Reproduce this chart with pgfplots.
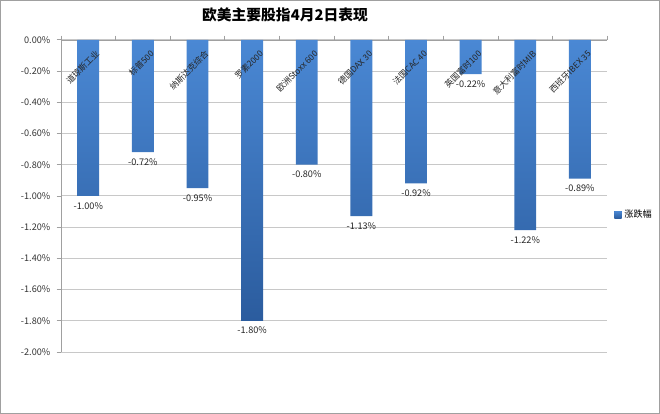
\documentclass[border=0pt]{standalone}
\usepackage{pgfplots}
\pgfplotsset{compat=1.18}
\usepackage{fontspec}
\setmainfont{Noto Sans CJK SC}
\definecolor{barTop}{HTML}{4A88D4}
\definecolor{barBot}{HTML}{2B5C9E}
\definecolor{gridc}{HTML}{C8C8C8}
\definecolor{axc}{HTML}{A0A0A0}
\begin{document}
\begin{tikzpicture}[x=0.025cm,y=0.025cm]
% outer frame, 660 x 414 px
\draw[draw=axc,line width=0.6pt] (0.5,0.5) rectangle (659.5,413.5);
\node[font=\fontsize{10.5}{11}\selectfont\bfseries] at (285,399) {欧美主要股指4月2日表现};
\begin{axis}[
    at={(1.525cm,1.55cm)}, anchor=south west,
    scale only axis,
    width=13.65cm, height=7.8cm,
    ymin=-2, ymax=0,
    xmin=-0.5, xmax=9.5,
    ytick={-2,-1.8,...,0},
    xtick={-0.5,0.5,...,9.5},
    xticklabels={},
    axis y line*=left,
    axis x line*=top,
    axis line style={draw=axc},
    tick style={draw=axc, line width=0.5pt},
    major tick length=3pt,
    tick align=outside,
    ymajorgrids,
    grid style={draw=gridc, line width=0.6pt},
    yticklabel={\pgfmathprintnumber[fixed,fixed zerofill,precision=2]{\tick}\%},
    /pgf/number format/assume math mode=true,
    tick label style={font=\fontsize{6.5}{7}\selectfont, text=black!80},
    yticklabel style={xshift=-1pt},
    ybar, bar width=0.4,
    nodes near coords={\pgfmathprintnumber[fixed,fixed zerofill,precision=2]{\pgfplotspointmeta}\%},
    every node near coord/.append style={font=\fontsize{6.5}{7}\selectfont, text=black!85, yshift=-1pt},
    clip=false,
    legend style={at={(1.01,0.44)}, anchor=west, draw=none, fill=none,
        font=\fontsize{6.5}{7}\selectfont, inner sep=1pt},
    legend image code/.code={\fill[barTop!60!barBot] (0cm,-0.09cm) rectangle (0.18cm,0.09cm);},
]
\addplot[draw=none, top color=barTop, bottom color=barBot, shading angle=0] coordinates {
    (0,-1.00) (1,-0.72) (2,-0.95) (3,-1.80) (4,-0.80)
    (5,-1.13) (6,-0.92) (7,-0.22) (8,-1.22) (9,-0.89)
};
\addlegendentry{涨跌幅}
\foreach \i/\lab in {0/道琼斯工业,1/标普500,2/纳斯达克综合,3/罗素2000,4/欧洲Stoxx 600,
    5/德国DAX 30,6/法国CAC 40,7/英国富时100,8/意大利富时MIB,9/西班牙IBEX 35}{
    \edef\tmp{\noexpand\node[rotate=45, anchor=north east, inner sep=0pt,
        font=\noexpand\fontsize{6}{7}\noexpand\selectfont, text=black!85]
        at (axis cs:\i+0.12,-0.06) {\lab};}
    \tmp
}
\end{axis}
\end{tikzpicture}
\end{document}
